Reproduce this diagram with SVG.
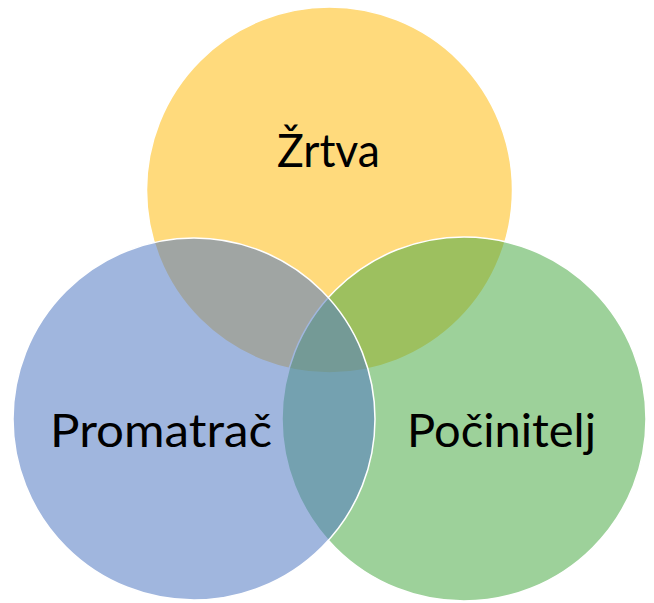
<svg xmlns="http://www.w3.org/2000/svg" width="654" height="603" viewBox="0 0 654 603">
<style>
.c{stroke:#ffffff;stroke-width:1.5;fill-opacity:0.55}
.t{font-family:Lato,"Open Sans","Liberation Sans",sans-serif;font-size:46px;fill:#000000}
</style>
<rect width="654" height="603" fill="#ffffff"/>
<g id="zrtva"><circle class="c" cx="329.5" cy="190" r="183" fill="#ffbc11"/></g>
<g id="pocinitelj"><circle class="c" cx="464" cy="419" r="182" fill="#4dab47"/></g>
<g id="promatrac"><circle class="c" cx="194" cy="419" r="181" fill="#527ac3"/></g>
<g id="labels">
<text class="t" x="277" y="167" textLength="103" lengthAdjust="spacingAndGlyphs">Žrtva</text>
<text class="t" x="50" y="447" textLength="222" lengthAdjust="spacingAndGlyphs">Promatrač</text>
<text class="t" x="407" y="447" textLength="189" lengthAdjust="spacingAndGlyphs">Počinitelj</text>
</g>
<g id="connectors"/>
</svg>
